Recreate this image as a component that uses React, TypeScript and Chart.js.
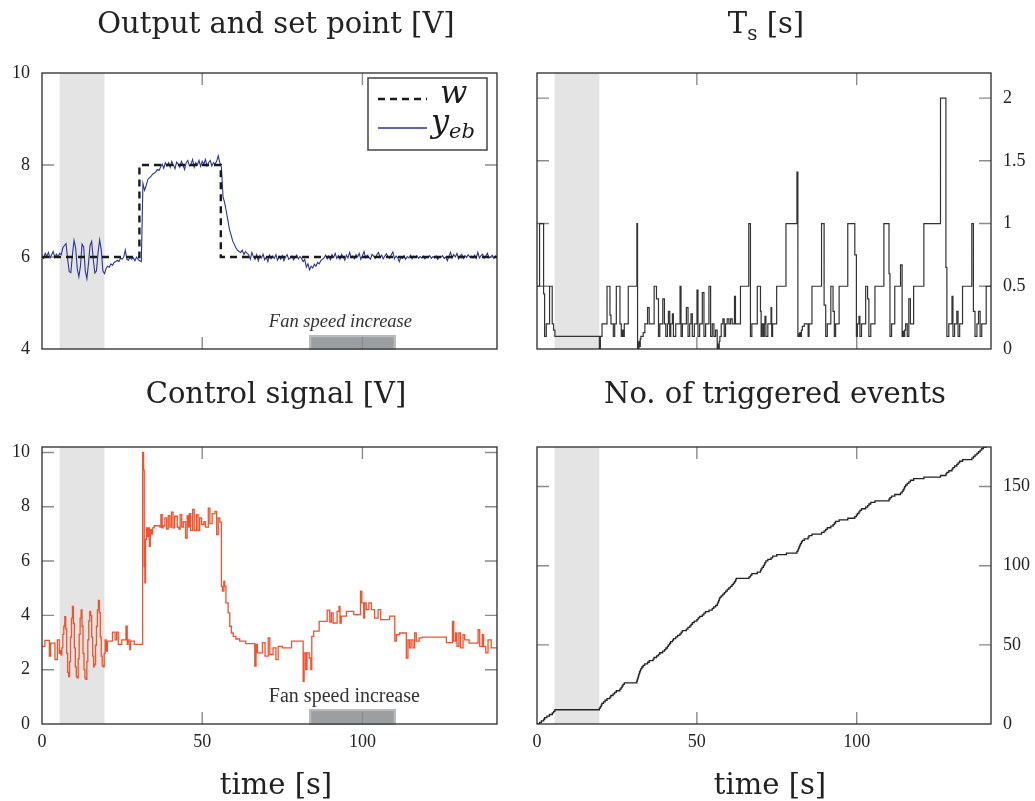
import React, { useEffect, useRef } from 'react';
import { Chart, registerables } from 'chart.js';

Chart.register(...registerables);

const W = 1035;
const H = 801;
const SERIF = 'DejaVu Serif';
const TIMES = 'Liberation Serif';
const TEXT = '#222222';
const BLUE = '#2a3593';
const ORANGE = '#f2522c';

// ---------- data ----------
const TIME_MAX = 142;
const TIME_STEP = 50;
const SHADE_RANGE = [5.5, 19.5];
const FAN_RANGE = [83.4, 110.4];
const FAN_LABEL_T = 70.8;
const FAN_TEXT = 'Fan speed increase';

// set point w (held until next time)
const wSteps: [number, number][] = [[0, 6], [30.4, 8], [55.8, 6], [142, 6]];

// output y_eb sampled every 0.5 s
const YEB_DT = 0.5;
const yebValues = [
  6.02, 5.97, 6.08, 6.01, 6.1, 5.98, 6.05, 6.12, 5.99, 6.06, 6.0, 6.08,
  6.05, 6.2, 6.25, 6.29, 5.95, 5.68, 5.66, 6.05, 6.36, 6.2, 5.75, 5.57, 5.8, 6.28, 6.22, 5.7, 5.53, 5.85,
  6.25, 6.34, 5.95, 5.65, 5.7, 6.1, 6.37, 6.15, 5.7, 5.64,
  5.75, 5.8, 5.78, 5.85, 5.82, 5.88, 5.9, 5.93, 5.9, 5.98, 5.95, 6.0, 6.15, 5.95, 5.93, 6.0, 5.95, 5.98,
  5.92, 6.0, 5.95, 5.92, 5.9,
  7.6, 7.45, 7.55, 7.68, 7.72, 7.75, 7.8, 7.82, 7.85, 7.9, 7.88, 7.95, 8.02, 7.93, 8.05, 7.98, 8.05, 7.95,
  8.08, 8.0, 7.92, 8.06, 8.02, 7.95, 8.08, 8.0, 7.9, 8.05, 8.1, 7.98, 8.02, 8.12, 7.95, 8.05, 8.0, 8.1,
  7.97, 8.08, 8.02, 8.12, 7.98, 8.05, 8.1, 7.98, 8.05, 8.02, 8.08, 8.2, 8.05,
  7.95, 7.3, 7.18, 7.0, 6.8, 6.6, 6.48, 6.35, 6.28, 6.2, 6.15, 6.12, 6.1, 6.15, 6.05, 6.12, 6.08, 6.05,
  5.95, 6.1, 6.0,
  5.95, 6.05, 5.92, 6.03, 5.98, 6.06, 5.94, 6.0, 5.9, 6.04, 5.96, 6.02, 5.97, 6.05, 5.93, 6.01, 5.95,
  6.03, 5.92, 6.0, 6.05, 5.95, 5.98, 6.02, 5.94, 5.99, 6.04, 5.96, 6.01, 5.97, 5.9, 5.95,
  5.78, 5.85, 5.72, 5.8, 5.76, 5.84, 5.8, 5.88, 5.85, 5.92,
  5.95, 5.98, 6.04, 5.96, 6.02, 5.94, 6.05, 5.99, 6.08, 5.97,
  6.03, 5.95, 6.06, 6.0, 5.93, 6.04, 5.98, 6.1, 5.99, 6.02,
  5.96, 6.05, 6.0, 6.08, 5.95, 6.03, 6.12, 5.98, 6.04, 6.0,
  5.95, 6.06, 6.02, 5.97, 6.05, 6.1, 5.99, 6.04, 5.96, 6.02,
  6.07, 6.0, 5.97, 6.05, 6.11, 5.96, 6.02, 5.99, 5.9, 6.0,
  5.97, 6.03, 5.95, 6.01, 5.98, 6.04, 5.96, 6.02, 5.99, 6.03,
  5.97, 6.01, 5.98, 6.02, 5.96, 6.0, 5.99, 6.03, 5.97, 6.01,
  5.98, 6.02, 5.95, 6.0, 5.99, 6.03, 5.97, 6.0, 5.92, 6.02,
  6.1, 5.98, 6.05, 6.0, 6.08, 5.96, 6.02, 6.06, 5.97, 6.03,
  5.99, 6.05, 6.0, 6.02, 5.98, 6.04, 5.97, 6.1, 5.98, 6.03,
  6.06, 5.97, 6.02, 6.08, 5.98, 6.0, 6.04, 5.97, 6.02, 5.99,
];

// control signal u (held until next time)
const uSteps: [number, number][] = [
  [0, 2.86], [0.9, 3.08], [2.3, 2.5], [2.7, 2.98], [4.05, 2.37], [4.8, 3.1], [5.4, 2.6],
  [5.6, 2.7], [5.9, 2.55], [6.2, 2.8], [6.5, 3.3], [6.8, 3.6], [7.1, 3.95], [7.4, 3.5], [7.7, 2.6],
  [8.0, 1.9], [8.3, 1.75], [8.6, 2.3], [8.9, 3.2], [9.2, 3.9], [9.5, 4.33], [9.8, 3.7], [10.1, 2.8],
  [10.4, 2.1], [10.7, 1.75], [11.0, 1.7], [11.3, 2.4], [11.6, 3.3], [11.9, 3.9], [12.2, 4.2], [12.5, 3.6],
  [12.8, 2.6], [13.1, 2.0], [13.4, 1.7], [13.7, 1.64], [14.0, 2.3], [14.3, 3.1], [14.6, 3.8], [14.9, 4.15],
  [15.2, 4.0], [15.5, 3.2], [15.8, 2.5], [16.1, 2.1], [16.4, 2.2], [16.7, 2.9], [17.0, 3.6], [17.3, 4.2],
  [17.6, 4.55], [17.9, 4.1], [18.2, 3.2], [18.5, 2.5], [18.8, 2.15], [19.1, 2.1], [19.4, 2.6],
  [19.7, 3.1], [20.0, 2.68], [20.4, 3.05], [22.0, 3.38], [22.8, 3.1], [23.3, 3.38], [23.8, 2.93],
  [24.9, 3.1], [26.2, 3.6], [26.6, 2.93], [26.9, 3.1], [27.4, 2.74], [27.6, 3.05], [28.8, 2.93],
  [31.4, 10.0], [31.7, 9.35], [31.9, 5.8], [32.1, 5.2], [32.3, 6.8], [32.6, 7.22], [32.9, 6.9],
  [33.2, 7.22], [33.5, 6.54], [33.8, 7.16], [34.2, 7.0], [34.5, 7.22], [35.0, 7.3], [36.8, 7.25],
  [37.1, 7.71], [37.5, 7.22], [37.8, 7.3], [38.35, 7.59], [38.9, 7.18], [39.4, 7.67], [39.9, 7.25],
  [40.4, 7.8], [40.9, 7.22], [41.4, 7.65], [42.2, 7.25], [42.7, 7.18], [43.1, 7.71], [43.6, 7.25],
  [44.1, 7.45], [44.8, 6.85], [45.3, 7.67], [45.6, 7.25], [46.0, 7.75], [46.4, 7.13], [47.0, 7.9],
  [47.5, 7.13], [48.2, 7.71], [48.7, 7.13], [49.2, 7.59], [49.8, 7.34], [50.5, 7.45], [51.0, 7.25],
  [51.9, 7.95], [52.4, 7.38], [53.1, 7.75], [54.0, 7.83], [54.5, 6.97], [55.0, 7.59], [55.5, 7.43],
  [56.0, 5.07], [56.3, 4.89], [56.75, 5.26], [57.0, 5.07], [57.4, 4.46], [58.1, 4.09], [58.6, 3.6],
  [59.1, 3.35], [59.7, 3.23], [60.5, 3.13], [61.7, 3.05], [63.6, 2.96], [66.4, 2.13], [66.8, 2.93],
  [67.2, 2.62], [68.8, 3.0], [69.6, 2.5], [70.6, 3.17], [71.1, 2.56], [72.1, 2.8], [73.0, 2.37],
  [73.7, 2.86], [75.05, 2.8], [77.9, 3.05],
  [81.5, 1.57], [81.8, 2.62], [82.3, 2.0], [82.7, 2.62], [83.4, 2.43], [83.9, 2.0], [84.2, 3.23],
  [84.8, 3.42], [86.5, 3.78], [89.0, 4.19], [89.8, 3.75], [90.3, 4.09], [90.85, 3.72], [92.1, 4.15],
  [92.7, 4.33], [93.0, 3.72], [93.4, 3.97], [95.0, 4.15], [97.3, 4.03], [99.4, 4.89], [99.8, 4.46],
  [100.4, 3.9], [100.7, 4.46], [101.2, 4.21], [102.0, 4.46], [102.8, 4.21], [103.8, 3.9], [104.9, 4.21],
  [105.7, 3.84], [108.5, 3.97],
  [110.1, 3.05], [110.6, 3.29], [111.6, 3.35], [113.7, 2.43], [114.2, 3.1], [114.7, 2.8], [115.2, 3.1],
  [115.8, 2.8], [116.3, 3.35], [116.8, 3.05], [117.7, 3.17], [118.7, 3.2], [126.2, 3.0], [128.1, 3.78],
  [128.5, 3.05], [129.1, 3.35], [129.5, 2.86], [130.1, 3.35], [130.6, 2.8], [131.4, 3.29], [131.9, 3.1],
  [133.3, 2.98], [136.1, 3.47], [136.6, 2.86], [137.4, 3.29], [137.8, 2.86], [138.5, 2.62], [139.2, 3.1],
  [140.2, 2.8], [142, 2.8],
];

// sampling period Ts (held until next time)
const tsSteps: [number, number][] = [
  [0, 0.5], [0.8, 1.0], [2.06, 0.44], [2.38, 0.1], [2.9, 0.2], [3.93, 0.5], [4.76, 0.2], [5.18, 0.15],
  [5.6, 0.1], [19.51, 0.0], [19.82, 0.1], [20.34, 0.2], [21.9, 0.5], [22.83, 0.27], [23.14, 0.2],
  [23.87, 0.1], [24.3, 0.2], [24.81, 0.5], [25.95, 0.2], [26.36, 0.1], [26.68, 0.15], [26.99, 0.1],
  [27.3, 0.2], [28.54, 0.5], [31.24, 1.0], [31.45, 0.0], [31.6, 0.05], [31.75, 0.0], [31.9, 0.06],
  [32.1, 0.02], [32.3, 0.08], [32.5, 0.1], [33.22, 0.13], [33.74, 0.2], [34.57, 0.33], [35.09, 0.2],
  [36.64, 0.5], [37.37, 0.4], [38.0, 0.1], [38.41, 0.2], [39.34, 0.4], [39.86, 0.2], [40.28, 0.1],
  [40.8, 0.2], [41.11, 0.3], [41.52, 0.1], [41.83, 0.2], [42.35, 0.28], [42.67, 0.1], [43.39, 0.2],
  [44.74, 0.5], [45.05, 0.1], [45.47, 0.2], [46.72, 0.33], [47.24, 0.1], [47.75, 0.2], [48.17, 0.28],
  [48.59, 0.1], [49.21, 0.2], [50.04, 0.47], [50.35, 0.1], [50.87, 0.2], [51.7, 0.45], [52.22, 0.1],
  [52.74, 0.2], [53.78, 0.5], [54.3, 0.1], [54.82, 0.2], [55.34, 0.1], [55.86, 0.15], [56.37, 0.0],
  [56.6, 0.04], [56.79, 0.0], [57.0, 0.06], [57.2, 0.1], [57.62, 0.2], [58.14, 0.24], [58.55, 0.1],
  [58.97, 0.2], [59.49, 0.24], [60.01, 0.2], [60.53, 0.24], [61.05, 0.2], [61.77, 0.42], [62.08, 0.2],
  [63.64, 0.5], [66.24, 1.0], [66.76, 0.1], [67.2, 0.2], [68.9, 0.5], [69.9, 0.3], [70.1, 0.1],
  [70.4, 0.2], [70.8, 0.1], [71.1, 0.2], [71.3, 0.26], [71.6, 0.1], [72.2, 0.2], [73.2, 0.33],
  [73.4, 0.1], [73.7, 0.2], [74.96, 0.5], [77.87, 1.0], [81.3, 1.41], [81.6, 0.1], [81.8, 0.12],
  [82.0, 0.1], [82.2, 0.13], [82.4, 0.1], [82.7, 0.15], [83.0, 0.18], [83.6, 0.2], [84.8, 0.1],
  [85.1, 0.2], [86.0, 0.5], [89.0, 1.0], [89.8, 0.35], [90.3, 0.1], [90.8, 0.2], [91.9, 0.5],
  [92.6, 0.3], [93.0, 0.1], [93.4, 0.2], [94.5, 0.5], [97.2, 1.0], [99.4, 0.75], [99.9, 0.1],
  [100.2, 0.2], [100.7, 0.26], [101.0, 0.1], [101.5, 0.2], [102.8, 0.5], [103.4, 0.4], [103.8, 0.1],
  [104.4, 0.2], [105.7, 0.5], [108.5, 1.0], [110.1, 0.6], [110.4, 0.1], [110.9, 0.2], [111.9, 0.5],
  [113.7, 0.67], [114.2, 0.1], [114.5, 0.14], [114.8, 0.1], [115.0, 0.15], [115.3, 0.2], [115.8, 0.1],
  [116.3, 0.4], [116.8, 0.2], [117.8, 0.5], [121.0, 1.0], [126.2, 2.0], [127.9, 0.65], [128.2, 0.1],
  [128.8, 0.2], [129.8, 0.42], [130.1, 0.1], [130.6, 0.2], [131.3, 0.3], [131.7, 0.1], [132.2, 0.2],
  [133.1, 0.5], [136.0, 1.0], [136.5, 0.3], [137.0, 0.1], [137.6, 0.2], [138.1, 0.3], [138.6, 0.1],
  [139.1, 0.2], [140.5, 0.5], [142, 0.5],
];

// times of triggered events (cumulative count)
const eventTimes = [
  0.8, 1.4, 2.1, 2.4, 3.1, 3.9, 4.8, 5.2, 5.6,
  19.5, 19.8, 20.1, 20.3, 20.8,
  21.3, 21.9, 22.8, 23.1, 23.8, 24.3,
  24.8, 25.9, 26.3, 26.6, 26.9, 27.3,
  31.2, 31.35, 31.5, 31.65, 31.8, 31.95, 32.1, 32.3, 32.5, 32.8,
  33.2, 33.7, 34.6, 35.1, 36.3,
  36.6, 37.4, 38.0, 38.4, 39.3, 39.9, 40.3, 40.8, 41.1, 41.5,
  41.8, 42.4, 42.7, 43.4, 44.0, 44.7, 45.1, 45.5, 46.7,
  47.2, 47.8, 48.2, 48.6, 49.2, 50.0, 50.4, 50.9, 51.7,
  52.2, 52.7, 53.8, 54.8,
  55.3, 55.9, 56.4, 56.6, 56.8, 57.0, 57.2, 57.6,
  58.1, 58.6, 59.0, 59.5, 60.0, 60.5, 61.0, 61.4, 61.8, 62.1, 62.3,
  66.3, 66.8, 67.2, 68.9, 69.9, 70.1, 70.4, 70.8, 71.1, 71.3,
  71.6, 72.2, 73.2, 73.7, 75.0, 78.0,
  81.3, 81.6, 81.8, 82.0, 82.2, 82.4, 82.7, 83.0, 83.6, 84.8, 85.1,
  86.0,
  89.0, 89.8, 90.3, 90.8, 91.9, 92.6, 93.0, 93.4, 94.5,
  97.2,
  99.4, 99.9, 100.2, 100.7, 101.0, 101.5, 102.8, 103.4, 103.8, 104.4,
  105.7,
  110.1, 110.4, 110.9, 111.9, 113.7,
  114.2, 114.5, 114.8, 115.0, 115.3, 115.8, 116.3, 116.8,
  117.8, 121.0,
  126.2, 127.9, 128.2, 128.8, 129.8, 130.1, 130.6, 131.3, 131.7, 132.2,
  133.1,
  136.0, 136.5, 137.0, 137.6, 138.1, 138.6, 139.1, 139.6, 140.5,
];

// ---------- chart helpers ----------
type Area = { left: number; top: number; right: number; bottom: number };
const Y_W = 50;
const X_H = 40;
const TICK_FONT = { family: TIMES, size: 18 };

const pairs = (arr: [number, number][]) => arr.map(([x, y]) => ({ x, y }));
const fmt = (v: any) => `${+Number(v).toFixed(2)}`;

function makeOptions(area: Area, yPos: 'left' | 'right', yMin: number, yMax: number, yStep: number, showX: boolean) {
  const padding =
    yPos === 'left'
      ? { left: area.left - Y_W, right: W - area.right, top: area.top, bottom: H - area.bottom - X_H }
      : { left: area.left, right: W - area.right - Y_W, top: area.top, bottom: H - area.bottom - X_H };
  return {
    responsive: false,
    animation: false,
    events: [],
    layout: { padding },
    plugins: { legend: { display: false }, tooltip: { enabled: false }, title: { display: false } },
    elements: { point: { radius: 0 }, line: { tension: 0 } },
    scales: {
      x: {
        type: 'linear',
        position: 'bottom',
        min: 0,
        max: TIME_MAX,
        grid: { display: false, drawTicks: false },
        border: { display: false },
        ticks: {
          display: showX,
          stepSize: TIME_STEP,
          includeBounds: false,
          padding: 7,
          maxRotation: 0,
          color: TEXT,
          font: TICK_FONT,
          callback: fmt,
        },
        afterFit: (s: any) => {
          s.height = X_H;
        },
      },
      y: {
        type: 'linear',
        position: yPos,
        min: yMin,
        max: yMax,
        grid: { display: false, drawTicks: false },
        border: { display: false },
        ticks: {
          stepSize: yStep,
          includeBounds: false,
          padding: 12,
          color: TEXT,
          font: TICK_FONT,
          callback: fmt,
        },
        afterFit: (s: any) => {
          s.width = Y_W;
        },
      },
    },
  };
}

type Deco = {
  fanTop?: number;
  fanLabelY?: number;
  fanItalic?: boolean;
  legend?: boolean;
};

function makePlugin(deco: Deco) {
  return {
    id: 'deco',
    beforeDatasetsDraw(chart: any) {
      const { ctx, chartArea: a, scales } = chart;
      const xs = scales.x;
      const ys = scales.y;
      ctx.save();
      // shaded band
      const s0 = xs.getPixelForValue(SHADE_RANGE[0]);
      const s1 = xs.getPixelForValue(SHADE_RANGE[1]);
      ctx.fillStyle = '#e4e4e4';
      ctx.fillRect(s0, a.top, s1 - s0, a.bottom - a.top);
      // fan box
      if (deco.fanTop !== undefined) {
        const f0 = xs.getPixelForValue(FAN_RANGE[0]);
        const f1 = xs.getPixelForValue(FAN_RANGE[1]);
        const fy = ys.getPixelForValue(deco.fanTop);
        ctx.fillStyle = '#9c9fa1';
        ctx.fillRect(f0, fy, f1 - f0, a.bottom - fy);
        ctx.strokeStyle = '#babdbf';
        ctx.lineWidth = 2;
        ctx.strokeRect(f0 + 1, fy + 1, f1 - f0 - 2, a.bottom - fy - 1);
      }
      // inner tick marks
      ctx.strokeStyle = '#8c8c8c';
      ctx.lineWidth = 1.4;
      const L = 12;
      ctx.beginPath();
      xs.ticks.forEach((t: any) => {
        const px = xs.getPixelForValue(t.value);
        if (px <= a.left + 1 || px >= a.right - 1) return;
        ctx.moveTo(px, a.top);
        ctx.lineTo(px, a.top + L);
        ctx.moveTo(px, a.bottom);
        ctx.lineTo(px, a.bottom - L);
      });
      ys.ticks.forEach((t: any) => {
        const py = ys.getPixelForValue(t.value);
        if (py <= a.top + 1 || py >= a.bottom - 1) return;
        ctx.moveTo(a.left, py);
        ctx.lineTo(a.left + L, py);
        ctx.moveTo(a.right, py);
        ctx.lineTo(a.right - L, py);
      });
      ctx.stroke();
      ctx.restore();
    },
    afterDatasetsDraw(chart: any) {
      const { ctx, chartArea: a, scales } = chart;
      ctx.save();
      // frame
      ctx.strokeStyle = '#2a2a2a';
      ctx.lineWidth = 1.3;
      ctx.strokeRect(a.left, a.top, a.right - a.left, a.bottom - a.top);
      // fan label
      if (deco.fanLabelY !== undefined) {
        ctx.fillStyle = '#333';
        ctx.textBaseline = 'alphabetic';
        ctx.textAlign = 'left';
        ctx.font = deco.fanItalic ? `italic 18.5px "${TIMES}"` : `20px "${TIMES}"`;
        ctx.fillText(FAN_TEXT, scales.x.getPixelForValue(FAN_LABEL_T), scales.y.getPixelForValue(deco.fanLabelY));
      }
      // legend
      if (deco.legend) {
        const Lx = a.right - 129;
        const Ty = a.top + 5;
        ctx.fillStyle = '#fff';
        ctx.fillRect(Lx, Ty, 119, 72);
        ctx.strokeStyle = '#444';
        ctx.lineWidth = 1.5;
        ctx.strokeRect(Lx, Ty, 119, 72);
        ctx.setLineDash([7, 5]);
        ctx.lineWidth = 2.4;
        ctx.strokeStyle = '#1a1a1a';
        ctx.beginPath();
        ctx.moveTo(Lx + 10, Ty + 21);
        ctx.lineTo(Lx + 59, Ty + 21);
        ctx.stroke();
        ctx.setLineDash([]);
        ctx.lineWidth = 1.5;
        ctx.strokeStyle = BLUE;
        ctx.beginPath();
        ctx.moveTo(Lx + 10, Ty + 50);
        ctx.lineTo(Lx + 59, Ty + 50);
        ctx.stroke();
        ctx.fillStyle = '#1a1a1a';
        ctx.textAlign = 'left';
        ctx.textBaseline = 'alphabetic';
        ctx.font = `italic 32px "${SERIF}"`;
        ctx.fillText('w', Lx + 72, Ty + 25);
        ctx.fillText('y', Lx + 63, Ty + 54);
        ctx.font = `italic 21px "${SERIF}"`;
        ctx.fillText('eb', Lx + 81, Ty + 60);
      }
      ctx.restore();
    },
  };
}

type PanelProps = { build: () => any };

function Panel({ build }: PanelProps) {
  const ref = useRef<HTMLCanvasElement>(null);
  useEffect(() => {
    const chart = new Chart(ref.current as HTMLCanvasElement, build());
    return () => chart.destroy();
  }, []);
  return (
    <canvas
      ref={ref}
      width={W}
      height={H}
      style={{ position: 'absolute', left: 0, top: 0, width: W, height: H }}
    />
  );
}

const AREA_TL: Area = { left: 42, top: 73, right: 497, bottom: 349 };
const AREA_TR: Area = { left: 537, top: 73, right: 991, bottom: 349 };
const AREA_BL: Area = { left: 42, top: 447, right: 497, bottom: 724 };
const AREA_BR: Area = { left: 537, top: 447, right: 991, bottom: 724 };

const buildOutput = () => ({
  type: 'line',
  data: {
    datasets: [
      {
        label: 'w',
        data: pairs(wSteps),
        borderColor: '#1a1a1a',
        borderWidth: 2.4,
        borderDash: [7, 5],
        stepped: 'before',
        pointRadius: 0,
      },
      {
        label: 'y_eb',
        data: yebValues.map((v, i) => ({ x: i * YEB_DT, y: v })),
        borderColor: BLUE,
        borderWidth: 1.1,
        pointRadius: 0,
      },
    ],
  },
  options: makeOptions(AREA_TL, 'left', 4, 10, 2, false),
  plugins: [makePlugin({ fanTop: 4.3, fanLabelY: 4.48, fanItalic: true, legend: true })],
});

const buildTs = () => ({
  type: 'line',
  data: {
    datasets: [
      {
        label: 'Ts',
        data: pairs(tsSteps),
        borderColor: '#333333',
        borderWidth: 1.2,
        stepped: 'before',
        pointRadius: 0,
      },
    ],
  },
  options: makeOptions(AREA_TR, 'right', 0, 2.2, 0.5, false),
  plugins: [makePlugin({})],
});

const buildControl = () => ({
  type: 'line',
  data: {
    datasets: [
      {
        label: 'u',
        data: pairs(uSteps),
        borderColor: ORANGE,
        borderWidth: 1.3,
        stepped: 'before',
        pointRadius: 0,
      },
    ],
  },
  options: makeOptions(AREA_BL, 'left', 0, 10.2, 2, true),
  plugins: [makePlugin({ fanTop: 0.55, fanLabelY: 0.82, fanItalic: false })],
});

const buildEvents = () => ({
  type: 'line',
  data: {
    datasets: [
      {
        label: 'events',
        data: [{ x: 0, y: 0 }, ...eventTimes.map((t, i) => ({ x: t, y: i + 1 })), { x: TIME_MAX, y: eventTimes.length }],
        borderColor: '#222222',
        borderWidth: 1.3,
        stepped: 'before',
        pointRadius: 0,
      },
    ],
  },
  options: makeOptions(AREA_BR, 'right', 0, 175, 50, true),
  plugins: [makePlugin({})],
});

function Label({ cx, baseline, size, children }: { cx: number; baseline: number; size: number; children: any }) {
  return (
    <div
      style={{
        position: 'absolute',
        left: cx - 300,
        width: 600,
        top: baseline - size * 0.946,
        textAlign: 'center',
        fontFamily: `"${SERIF}", serif`,
        fontSize: size,
        lineHeight: `${size * 1.2}px`,
        color: TEXT,
        whiteSpace: 'nowrap',
      }}
    >
      {children}
    </div>
  );
}

export default function App() {
  return (
    <div style={{ position: 'absolute', left: 0, top: 0, width: W, height: H, background: '#fff', overflow: 'hidden' }}>
      <Panel build={buildOutput} />
      <Panel build={buildTs} />
      <Panel build={buildControl} />
      <Panel build={buildEvents} />
      <Label cx={276} baseline={33} size={29}>Output and set point [V]</Label>
      <Label cx={766} baseline={33} size={29}>
        T<span style={{ fontSize: 20, position: 'relative', top: 7 }}>s</span> [s]
      </Label>
      <Label cx={276} baseline={403} size={29}>Control signal [V]</Label>
      <Label cx={775} baseline={403} size={29}>No. of triggered events</Label>
      <Label cx={276} baseline={794} size={29}>time [s]</Label>
      <Label cx={770} baseline={794} size={29}>time [s]</Label>
    </div>
  );
}
